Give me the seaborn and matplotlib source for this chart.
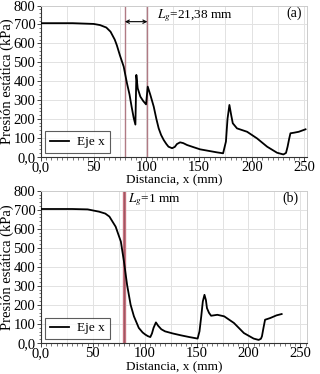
import numpy as np
import pandas as pd
import matplotlib
matplotlib.use("Agg")
from matplotlib import pyplot as plt
from matplotlib.ticker import MultipleLocator, FuncFormatter
import seaborn as sns

# (a) Lg = 21,38 mm
dist_a = [0, 30, 50, 56, 62, 66, 70, 72, 75, 78.5, 81.6, 84, 86, 88, 89.6, 90.5, 91.8,
          94.3, 97, 99.7, 101.3, 103.8, 107, 109.5, 111.7, 114, 116.5, 119, 121, 124.4,
          127, 129, 132, 135, 138.6, 145, 151, 160, 167, 172.8, 175.5, 177, 178.8,
          180.5, 182, 186, 195.6, 205, 214.6, 224, 230, 232.5, 234, 235.5, 236.7, 240,
          244.6, 251]
pres_a = [707, 707, 703, 697, 684, 662, 620, 590, 535, 477, 389, 330, 265, 205, 170, 433,
          362, 318, 295, 277, 371, 327, 265, 200, 150, 115, 88, 67, 53, 45,
          52, 67, 76, 72, 62, 50, 39, 30, 23, 18, 80, 200, 274,
          220, 177, 150, 132, 97, 53, 21, 12, 20, 53, 95, 124, 127,
          132, 145]

# (b) Lg = 1 mm
dist_b = [0, 30, 45, 56, 62, 66, 72, 77, 80, 83, 86.4, 89.6, 94.3, 98, 100.6, 103, 105.4,
          107, 108.5, 110.8, 113, 116, 119.6, 127, 135, 143, 151, 152.8, 154.5, 156, 157.6,
          159, 160, 162, 164, 170, 176.6, 186, 195.6, 205, 209.8, 212, 213, 214.5, 216,
          221, 227, 232]
pres_b = [704, 704, 702, 690, 680, 664, 611, 533, 428, 306, 201, 140, 79, 55, 44, 36, 31,
          50, 79, 108, 90, 72, 61, 50, 40, 31, 23, 61, 140, 218, 253,
          225, 183, 158, 143, 148, 140, 105, 52, 23, 16, 22, 35, 80, 122,
          131, 145, 152]

lines_a = [79.6, 101.0]
lines_b = [80.0]

plt.rcParams['font.family'] = ['Liberation Serif', 'DejaVu Serif']
plt.rcParams['mathtext.fontset'] = 'stix'

fig = plt.figure(figsize=(3.2, 3.74), dpi=100)
ax_a = fig.add_axes([0.128, 0.581, 0.83, 0.404])
ax_b = fig.add_axes([0.128, 0.083, 0.83, 0.407])

df_a = pd.DataFrame({"x": dist_a, "p": pres_a})
df_b = pd.DataFrame({"x": dist_b, "p": pres_b})


def fmt(v, pos):
    return "0,0" if abs(v) < 1e-9 else "%d" % v


for ax, df, vl, xmax in [(ax_a, df_a, lines_a, 252), (ax_b, df_b, lines_b, 256)]:
    ax.xaxis.set_major_locator(MultipleLocator(50))
    ax.xaxis.set_minor_locator(MultipleLocator(5))
    ax.yaxis.set_major_locator(MultipleLocator(100))
    ax.yaxis.set_minor_locator(MultipleLocator(20))
    ax.set_xlim(0, xmax)
    ax.set_ylim(0, 800)
    # grid: vertical every 25, horizontal every 100
    for gx in np.arange(25, xmax, 25):
        ax.axvline(gx, color='#e2e2e2', lw=0.7, zorder=0)
    for gy in np.arange(100, 800, 100):
        ax.axhline(gy, color='#e2e2e2', lw=0.7, zorder=0)
    sns.lineplot(data=df, x="x", y="p", ax=ax, color='black', lw=1.3,
                 label="Eje x", sort=False, zorder=3)
    ax.xaxis.set_major_formatter(FuncFormatter(fmt))
    ax.yaxis.set_major_formatter(FuncFormatter(fmt))
    ax.tick_params(which='major', length=3, width=0.7, labelsize=10.5, pad=1,
                   color='#444444')
    ax.tick_params(axis='x', which='major', pad=0)
    ax.tick_params(which='minor', length=1.8, width=0.5, color='#444444')
    ax.set_xlabel("Distancia, x (mm)", fontsize=9.5, labelpad=0.5)
    ax.set_ylabel("Presión estática (kPa)", fontsize=10.5, labelpad=0)
    for s in ['top', 'right']:
        ax.spines[s].set_color('#cccccc')
        ax.spines[s].set_linewidth(0.7)
    for s in ['left', 'bottom']:
        ax.spines[s].set_color('#333333')
        ax.spines[s].set_linewidth(0.8)
    leg = ax.legend(loc='lower left', fontsize=9.5, frameon=True, fancybox=False,
                    handlelength=1.5, borderpad=0.35, handletextpad=0.6,
                    borderaxespad=0.3)
    leg.get_frame().set_edgecolor('#333333')
    leg.get_frame().set_linewidth(0.8)

for v in lines_a:
    ax_a.axvline(v, color='#b07a84', lw=1.0, zorder=2)
ax_a.annotate("", xy=(lines_a[0], 715), xytext=(lines_a[1], 715),
              arrowprops=dict(arrowstyle='<->', color='black', lw=0.8,
                              shrinkA=0, shrinkB=0, mutation_scale=6))
ax_a.text(110, 735, "$L_g$=21,38 mm", fontsize=9.5)
ax_a.text(240, 740, "(a)", fontsize=10, ha='center')

for v in lines_b:
    ax_b.axvline(v, color='#c8707e', lw=2.4, zorder=2)
    ax_b.axvline(v, color='#8a5058', lw=0.5, zorder=2)
ax_b.text(84, 740, "$L_g$=1 mm", fontsize=9.5)
ax_b.text(240, 740, "(b)", fontsize=10, ha='center')

fig.savefig("out.png", dpi=100)
